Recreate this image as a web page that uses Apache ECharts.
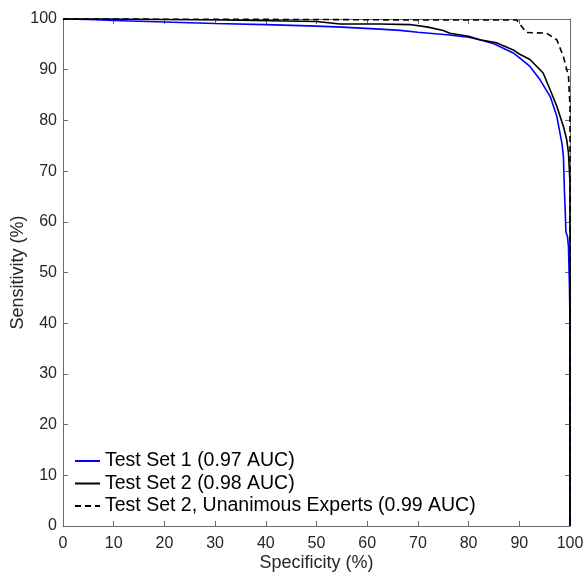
<!DOCTYPE html>
<html><head><meta charset="utf-8">
<script src="https://cdn.jsdelivr.net/npm/echarts@6/dist/echarts.min.js"></script>
<style>html,body{margin:0;padding:0;background:#fff}#c{width:585px;height:573px}</style>
</head><body><div id="c"></div><script>
// Data
const seriesNames = ['Test Set 1 (0.97 AUC)', 'Test Set 2 (0.98 AUC)', 'Test Set 2, Unanimous Experts (0.99 AUC)'];
const xTicks = [0,10,20,30,40,50,60,70,80,90,100];
const yTicks = [0,10,20,30,40,50,60,70,80,90,100];

const set1Spec = [0,5,10,20,30,40,50,55,62.5,66.5,70,75.7,80,82.2,85,88.8,90,92.1,94.1,96.1,97.4,98.4,98.7,98.9,99.0,99.2,99.5,99.7,99.9,100,100];
const set1Sens = [100,99.9,99.7,99.4,99.1,98.9,98.6,98.4,98.0,97.75,97.4,96.9,96.4,95.9,95.1,93.3,92.4,90.65,88.0,84.7,80.8,75.5,72.9,66,63.7,58,57.1,55.1,47,40,0];

const set2Spec = [0,7.3,7.3,32.3,32.3,50,50,54.6,62.5,68.4,72,75.0,76.3,80,82.2,85.5,88.8,90,92.1,94.7,96.1,97.4,98.7,99.35,99.7,100,100];
const set2Sens = [100,100,99.85,99.8,99.6,99.5,99.3,99.0,99.0,98.9,98.4,97.75,97.2,96.6,95.9,95.3,93.9,93.1,92.0,89.35,86.0,82.8,78.8,76.2,73.6,67.7,0];

const unanSpec = [0,50,70,89.5,91.4,95.4,97.4,98.7,99.7,100,100];
const unanSens = [100,99.9,99.8,99.8,97.35,97.2,95.9,92.6,88.7,82.8,0];

function zip(a,b){ return a.map((v,i)=>[v,b[i]]); }

const FONT = 'Liberation Sans, Arial, Helvetica, sans-serif';
const AX = '#6a6a6a';
const TXT = '#262626';

function axisBase(extra){
  return Object.assign({
    type:'value', min:0, max:100, interval:10,
    splitLine:{show:false},
    axisLine:{show:true, onZero:false, lineStyle:{color:AX, width:1}},
    axisTick:{show:true, inside:true, length:5, lineStyle:{color:AX, width:1}},
  }, extra);
}

const chart = echarts.init(document.getElementById('c'), null, {renderer:'canvas'});
chart.setOption({
  animation:false,
  backgroundColor:'#fff',
  textStyle:{fontFamily:FONT},
  grid:{left:63, right:15, top:19, bottom:47, containLabel:false, outerBoundsMode:'none'},
  legend:{
    orient:'vertical', left:74, top:451, padding:0,
    itemWidth:25, itemHeight:14, itemGap:2.5,
    itemStyle:{opacity:0},
    data:seriesNames,
    textStyle:{fontSize:19.5, color:'#000', fontFamily:FONT, lineHeight:18}
  },
  xAxis:[
    axisBase({position:'bottom', name:'Specificity (%)', nameLocation:'middle', nameGap:28, nameMoveOverlap:false,
      nameTextStyle:{fontSize:18, color:TXT, fontFamily:FONT},
      axisLabel:{show:true, fontSize:16, color:TXT, margin:10, fontFamily:FONT,
        formatter:v=>xTicks.includes(v)?String(v):''}}),
    axisBase({position:'top', axisLabel:{show:false}})
  ],
  yAxis:[
    axisBase({position:'left', name:'Sensitivity (%)', nameLocation:'middle', nameGap:36, nameMoveOverlap:false,
      nameTextStyle:{fontSize:18, color:TXT, fontFamily:FONT},
      axisLabel:{show:true, fontSize:16, color:TXT, margin:6, fontFamily:FONT,
        formatter:v=>yTicks.includes(v)?String(v):''}}),
    axisBase({position:'right', axisLabel:{show:false}})
  ],
  series:[
    {name:seriesNames[0], type:'line', data:zip(set1Spec,set1Sens), symbol:'none', clip:false,
      lineStyle:{color:'#0000ff', width:1.6}, itemStyle:{color:'#0000ff'}},
    {name:seriesNames[1], type:'line', data:zip(set2Spec,set2Sens), symbol:'none', clip:false,
      lineStyle:{color:'#000', width:1.6}, itemStyle:{color:'#000'}},
    {name:seriesNames[2], type:'line', data:zip(unanSpec,unanSens), symbol:'none', clip:false,
      lineStyle:{color:'#000', width:1.6, type:[6,4]}, itemStyle:{color:'#000'}}
  ]
});
</script></body></html>
